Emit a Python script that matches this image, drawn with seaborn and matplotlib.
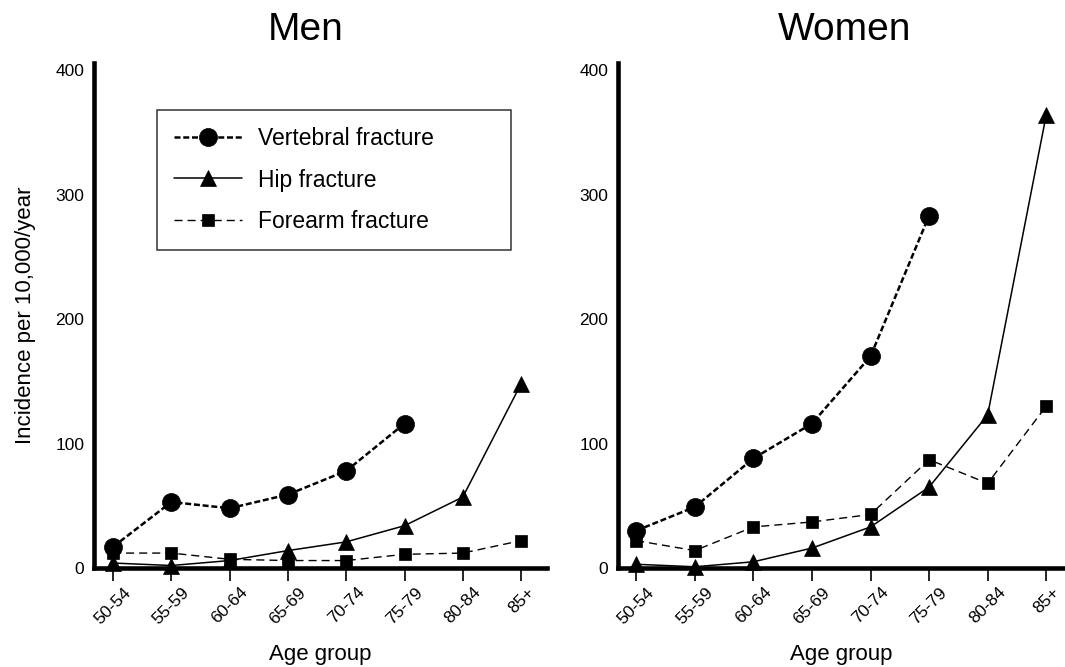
import numpy as np
import pandas as pd
import matplotlib
matplotlib.use("Agg")
import matplotlib.pyplot as plt
import seaborn as sns

# ---- data ----
age_groups = ["50-54", "55-59", "60-64", "65-69", "70-74", "75-79", "80-84", "85+"]
yticks = [0, 100, 200, 300, 400]

men_vertebral = [17, 53, 48, 59, 78, 116]
men_hip = [4, 2, 6, 14, 21, 34, 57, 148]
men_forearm = [12, 12, 7, 6, 6, 11, 12, 22]

women_vertebral = [30, 49, 88, 116, 170, 283]
women_hip = [3, 1, 5, 16, 33, 65, 123, 364]
women_forearm = [22, 14, 33, 37, 43, 87, 68, 130]

series_labels = ["Vertebral fracture", "Hip fracture", "Forearm fracture"]
panel_titles = ["Men", "Women"]

sns.set_style("white")
plt.rcParams["font.family"] = ["Liberation Sans", "DejaVu Sans"]
plt.rcParams["text.color"] = "black"
plt.rcParams["axes.labelcolor"] = "black"
plt.rcParams["xtick.color"] = "black"
plt.rcParams["ytick.color"] = "black"

fig = plt.figure(figsize=(10.65, 6.67), dpi=100)
ax_m = fig.add_axes([0.0883, 0.1484, 0.4254, 0.7571])
ax_w = fig.add_axes([0.5803, 0.1484, 0.4197, 0.7571])

styles = [
    dict(marker="o", markersize=13, linewidth=1.8, linestyle=(0, (2.4, 1.1))),
    dict(marker="^", markersize=12, linewidth=1.1, linestyle="-"),
    dict(marker="s", markersize=8.5, linewidth=1.0, linestyle=(0, (5.8, 3.6))),
]


def draw(ax, data_sets):
    handles = []
    for vals, st, lab in zip(data_sets, styles, series_labels):
        df = pd.DataFrame({"x": np.arange(len(vals)), "y": vals})
        n_before = len(ax.lines)
        sns.lineplot(data=df, x="x", y="y", ax=ax, color="black",
                     markeredgecolor="black", markerfacecolor="black",
                     markeredgewidth=0.5, clip_on=False, legend=False, **st)
        line = ax.lines[n_before]
        line.set_label(lab)
        handles.append(line)
    return handles


handles = draw(ax_m, [men_vertebral, men_hip, men_forearm])
draw(ax_w, [women_vertebral, women_hip, women_forearm])

for ax, xlim in [(ax_m, (-0.326, 7.446)), (ax_w, (-0.31, 7.32))]:
    ax.set_xlim(*xlim)
    ax.set_ylim(0, 405.6)
    ax.set_xticks(np.arange(len(age_groups)))
    ax.set_xticklabels(age_groups, rotation=45, ha="center", va="top")
    ax.set_yticks(yticks)
    ax.set_yticklabels([str(v) for v in yticks])
    for s in ["top", "right"]:
        ax.spines[s].set_visible(False)
    for s in ["left", "bottom"]:
        ax.spines[s].set_linewidth(3.3)
        ax.spines[s].set_color("black")
    ax.tick_params(axis="x", length=9, width=1.2, direction="out", pad=3,
                   labelsize=12.5, colors="black", bottom=True)
    ax.tick_params(axis="y", length=0, pad=7, labelsize=12.5, colors="black")
    ax.set_xlabel("Age group", fontsize=16, labelpad=12)
    ax.set_ylabel("")

ax_m.set_ylabel("Incidence per 10,000/year", fontsize=16, labelpad=14)

fig.text(306 / 1065, 1 - 40 / 667, panel_titles[0], fontsize=28,
         ha="center", va="baseline")
fig.text(845 / 1065, 1 - 40 / 667, panel_titles[1], fontsize=28,
         ha="center", va="baseline")

leg = ax_m.legend(handles=handles, labels=series_labels,
                  loc="upper left", bbox_to_anchor=(0.139, 0.62, 0.7815, 0.287),
                  mode="expand", borderaxespad=0, fontsize=16.5,
                  handlelength=2.95, handletextpad=0.7, borderpad=0.75,
                  labelspacing=0.8, fancybox=False, framealpha=1)
leg.get_frame().set_edgecolor("#333333")
leg.get_frame().set_linewidth(1.1)

fig.savefig("out.png", dpi=100)
